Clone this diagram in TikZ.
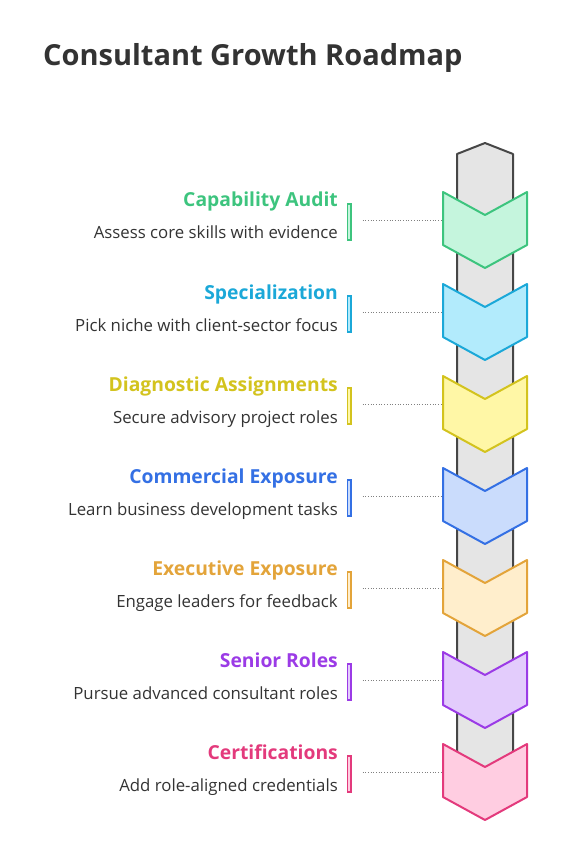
\documentclass[tikz,border=0pt]{standalone}
\usepackage{fontspec}
\setmainfont{Open Sans}
\definecolor{ink}{HTML}{333333}
\definecolor{colfill}{HTML}{E5E5E5}
\definecolor{colline}{HTML}{474747}
\definecolor{grnline}{HTML}{3DC47E}\definecolor{grnfill}{HTML}{C5F5DD}
\definecolor{cyaline}{HTML}{1BA8D8}\definecolor{cyafill}{HTML}{B2EBFC}
\definecolor{yelline}{HTML}{D3C31E}\definecolor{yelfill}{HTML}{FFF7A6}
\definecolor{bluline}{HTML}{3470E4}\definecolor{blufill}{HTML}{CADCFC}
\definecolor{oraline}{HTML}{E3A43A}\definecolor{orafill}{HTML}{FFEECC}
\definecolor{purline}{HTML}{9B3BE6}\definecolor{purfill}{HTML}{E3CCFC}
\definecolor{pnkline}{HTML}{E33A7C}\definecolor{pnkfill}{HTML}{FFCDE1}
\tikzset{
  column/.style={draw=colline,fill=colfill,line width=2pt,line join=round},
  chev/.style={draw=#1line,fill=#1fill,line width=2pt,line join=round},
  stepbar/.style={draw=#1line,fill=#1fill,line width=1.5pt,minimum width=3.5pt,minimum height=36pt,inner sep=0pt},
  steptitle/.style={anchor=base east,inner sep=0pt,text=#1line,font=\fontsize{19.3}{23}\selectfont\bfseries},
  stepdesc/.style={anchor=base east,inner sep=0pt,text=ink,font=\fontsize{16.8}{20}\selectfont},
  leader/.style={draw=gray,line width=0.7pt,dotted}
}
\begin{document}
\begin{tikzpicture}[x=1pt,y=-1pt]
\useasboundingbox (0,0) rectangle (568,858);
\node[anchor=base west,inner sep=0pt,text=ink,font=\fontsize{29}{34}\selectfont\bfseries] (title) at (43,66) {Consultant Growth Roadmap};
\draw[column] (457,790) -- (457,154) -- (485,143) -- (513,154) -- (513,790) -- cycle;
\draw[chev=grn] (443,192) -- ++(42,23) -- ++(42,-23) -- ++(0,53) -- ++(-42,23) -- ++(-42,-23) -- cycle;
\draw[chev=cya] (443,284) -- ++(42,23) -- ++(42,-23) -- ++(0,53) -- ++(-42,23) -- ++(-42,-23) -- cycle;
\draw[chev=yel] (443,376) -- ++(42,23) -- ++(42,-23) -- ++(0,53) -- ++(-42,23) -- ++(-42,-23) -- cycle;
\draw[chev=blu] (443,468) -- ++(42,23) -- ++(42,-23) -- ++(0,53) -- ++(-42,23) -- ++(-42,-23) -- cycle;
\draw[chev=ora] (443,560) -- ++(42,23) -- ++(42,-23) -- ++(0,53) -- ++(-42,23) -- ++(-42,-23) -- cycle;
\draw[chev=pur] (443,652) -- ++(42,23) -- ++(42,-23) -- ++(0,53) -- ++(-42,23) -- ++(-42,-23) -- cycle;
\draw[chev=pnk] (443,744) -- ++(42,23) -- ++(42,-23) -- ++(0,53) -- ++(-42,23) -- ++(-42,-23) -- cycle;
\coordinate (c1) at (441,220);
\coordinate (c2) at (441,312);
\coordinate (c3) at (441,404);
\coordinate (c4) at (441,496);
\coordinate (c5) at (441,588);
\coordinate (c6) at (441,680);
\coordinate (c7) at (441,772);
\node[stepbar=grn] (b1) at (349,222) {};
\node[stepbar=cya] (b2) at (349,314) {};
\node[stepbar=yel] (b3) at (349,406) {};
\node[stepbar=blu] (b4) at (349,498) {};
\node[stepbar=ora] (b5) at (349,590) {};
\node[stepbar=pur] (b6) at (349,682) {};
\node[stepbar=pnk] (b7) at (349,774) {};
\draw[leader] ([xshift=11pt]b1.east |- c1) -- (c1);
\draw[leader] ([xshift=11pt]b2.east |- c2) -- (c2);
\draw[leader] ([xshift=11pt]b3.east |- c3) -- (c3);
\draw[leader] ([xshift=11pt]b4.east |- c4) -- (c4);
\draw[leader] ([xshift=11pt]b5.east |- c5) -- (c5);
\draw[leader] ([xshift=11pt]b6.east |- c6) -- (c6);
\draw[leader] ([xshift=11pt]b7.east |- c7) -- (c7);
\node[steptitle=grn] (t1) at (338,207) {Capability Audit};
\node[stepdesc] (d1) at (338,239) {Assess core skills with evidence};
\node[steptitle=cya] (t2) at (338,299) {Specialization};
\node[stepdesc] (d2) at (338,331) {Pick niche with client-sector focus};
\node[steptitle=yel] (t3) at (338,391) {Diagnostic Assignments};
\node[stepdesc] (d3) at (338,423) {Secure advisory project roles};
\node[steptitle=blu] (t4) at (338,483) {Commercial Exposure};
\node[stepdesc] (d4) at (338,515) {Learn business development tasks};
\node[steptitle=ora] (t5) at (338,575) {Executive Exposure};
\node[stepdesc] (d5) at (338,607) {Engage leaders for feedback};
\node[steptitle=pur] (t6) at (338,667) {Senior Roles};
\node[stepdesc] (d6) at (338,699) {Pursue advanced consultant roles};
\node[steptitle=pnk] (t7) at (338,759) {Certifications};
\node[stepdesc] (d7) at (338,791) {Add role-aligned credentials};
\end{tikzpicture}
\end{document}
